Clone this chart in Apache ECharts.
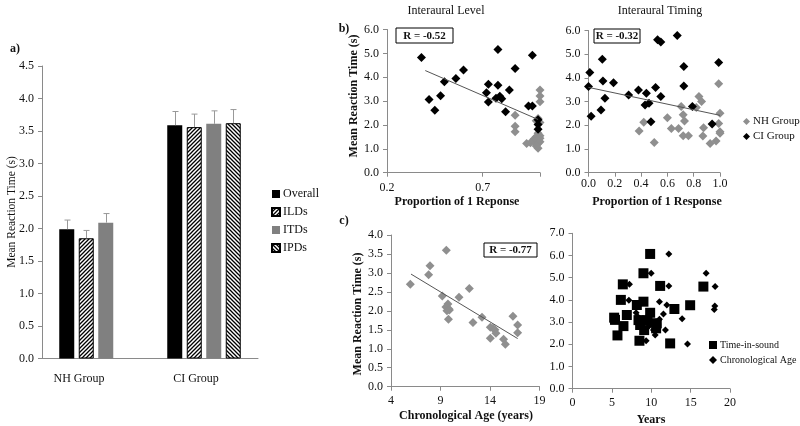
<!DOCTYPE html>
<html><head><meta charset="utf-8">
<script src="https://cdn.jsdelivr.net/npm/echarts@6/dist/echarts.min.js"></script>
<style>html,body{margin:0;padding:0;background:#fff}#c{width:800px;height:426px}</style>
</head><body><div id="c"></div>
<script>
const FONT = '"Liberation Serif", "Times New Roman", serif';

// ---------- Panel a: bar chart ----------
const groups = ['NH Group', 'CI Group'];
const barNames = ['Overall', 'ILDs', 'ITDs', 'IPDs'];
const overall = [1.99, 3.59];
const ilds = [1.85, 3.56];
const itds = [2.09, 3.61];
const ipds = [null, 3.62];
const overallErr = [0.14, 0.21];
const ildsErr = [0.12, 0.20];
const itdsErr = [0.14, 0.20];
const ipdsErr = [null, 0.21];

// ---------- Panel b: Interaural Level ----------
const levelNH = [[0.87,2.41],[0.87,1.95],[0.87,1.72],[1.00,3.46],[1.00,3.21],[1.00,2.97],[0.99,2.27],[0.98,2.18],[1.00,2.10],
  [0.99,1.65],[1.00,1.55],[0.98,1.50],[0.97,1.42],[0.99,1.38],[1.00,1.44],[0.97,1.30],[0.95,1.25],[0.93,1.22],[0.99,1.22],[1.00,1.30],[0.99,1.02],[0.98,1.12]];
const levelCI = [[0.38,4.83],[0.42,3.07],[0.45,2.62],[0.48,3.22],[0.50,3.81],[0.56,3.95],[0.60,4.30],[0.72,3.35],[0.73,2.96],[0.73,3.71],
  [0.78,5.16],[0.78,3.66],[0.77,3.12],[0.79,3.20],[0.80,3.10],[0.82,2.55],[0.84,3.46],[0.87,4.37],[0.94,2.79],[0.96,2.79],[0.96,4.92],[0.99,2.22],[0.99,2.02],[0.99,1.82]];
const levelTrend = [[0.40,4.28],[0.99,2.23]];
const levelXTicks = [0.2, 0.7];

// ---------- Panel b: Interaural Timing ----------
const timingNH = [[0.385,1.76],[0.42,2.13],[0.50,1.27],[0.60,2.32],[0.63,1.87],[0.685,1.87],[0.705,2.79],[0.72,2.44],[0.73,2.18],[0.72,1.56],
  [0.76,1.56],[0.82,2.75],[0.84,3.21],[0.86,3.00],[0.875,1.90],[0.87,1.55],[0.925,1.23],[0.97,1.34],[0.99,3.75],[1.00,2.51],[0.99,2.08],[1.00,1.73],[1.00,1.66]];
const timingCI = [[0.00,3.64],[0.01,4.23],[0.02,2.38],[0.105,4.79],[0.11,3.87],[0.125,3.14],[0.095,2.65],[0.19,3.80],[0.305,3.28],[0.38,3.49],
  [0.44,3.35],[0.43,2.86],[0.46,2.93],[0.475,2.15],[0.51,3.59],[0.525,5.61],[0.55,5.51],[0.55,3.21],[0.675,5.79],[0.725,4.48],[0.725,3.66],[0.79,2.79],[0.94,2.06],[0.99,4.65]];
const timingTrend = [[0.0,3.60],[1.0,2.42]];

// ---------- Panel c: Chronological age ----------
const ageNH = [[5.95,2.70],[7.80,2.95],[7.94,3.19],[9.59,3.60],[9.18,2.39],[9.55,2.10],[9.75,2.18],[9.85,2.05],[9.65,2.00],[9.90,2.02],[9.80,1.78],
  [10.87,2.36],[11.91,2.59],[12.28,1.69],[13.19,1.83],[14.03,1.57],[14.30,1.54],[14.50,1.50],[14.60,1.41],[14.03,1.28],[15.37,1.25],[15.55,1.12],[16.32,1.86],[16.79,1.63],[16.79,1.42]];
const ageTrend = [[6.02,2.97],[16.79,1.27]];

// ---------- Panel c: Years ----------
const timeInSound = [[9.86,6.07],[9.01,5.20],[6.39,4.70],[11.13,4.63],[16.62,4.60],[6.14,4.00],[9.01,3.92],[8.17,3.77],[12.94,3.59],[14.94,3.76],
  [9.86,3.42],[5.29,3.20],[5.40,3.10],[6.90,3.32],[6.47,2.82],[8.38,3.09],[8.59,2.87],[9.52,3.09],[9.10,2.64],[10.62,2.72],[10.70,2.95],[5.71,2.40],[8.50,2.16],[12.40,2.04]];
const chronoAge = [[12.23,6.07],[9.99,5.20],[16.97,5.20],[7.23,4.70],[12.23,4.63],[18.11,4.60],[7.16,3.98],[11.04,3.92],[11.98,3.77],[18.07,3.72],
  [18.00,3.57],[13.92,3.15],[8.08,3.42],[8.30,3.24],[9.65,3.30],[11.04,3.13],[11.55,3.36],[9.73,2.82],[10.28,2.64],[10.84,2.72],[11.80,2.64],[10.50,2.42],[9.35,2.16],[14.60,2.01]];

// ---------- helpers ----------
function hatch(dir) {
  const c = document.createElement('canvas');
  c.width = c.height = 4;
  const g = c.getContext('2d');
  g.fillStyle = '#fff'; g.fillRect(0, 0, 4, 4);
  g.strokeStyle = '#000'; g.lineWidth = 1.3; g.beginPath();
  if (dir > 0) { g.moveTo(0,4); g.lineTo(4,0); g.moveTo(-1,1); g.lineTo(1,-1); g.moveTo(3,5); g.lineTo(5,3); }
  else { g.moveTo(0,0); g.lineTo(4,4); g.moveTo(-1,3); g.lineTo(1,5); g.moveTo(3,-1); g.lineTo(5,1); }
  g.stroke();
  return c;
}
const GRAY_AXIS = '#8a8a8a';
const TXT = '#111';
function valAxis(idx, min, max, interval, fmt, margin) {
  return {
    type: 'value', gridIndex: idx, min, max, interval,
    axisLine: { show: true, lineStyle: { color: GRAY_AXIS } },
    axisTick: { show: true, length: 4, lineStyle: { color: GRAY_AXIS } },
    splitLine: { show: false },
    axisLabel: { fontFamily: FONT, fontSize: 12, color: TXT, margin: margin || 8, formatter: fmt }
  };
}
const f1 = v => v.toFixed(1);
const f0 = v => String(Math.round(v));

const BAR_W = 15, BAR_GAP = 0.3;
const barVals = [overall, ilds, itds, ipds];
const barErrs = [overallErr, ildsErr, itdsErr, ipdsErr];
const errData = [];
barVals.forEach((arr, s) => arr.forEach((v, c) => { if (v != null) errData.push([c, s, v, barErrs[s][c]]); }));

function text(t, x, y, opts) {
  opts = opts || {};
  return {
    type: 'text', x, y, rotation: opts.rot || 0, z: 100,
    style: { text: t, fontFamily: FONT, fontSize: opts.size || 12, fontWeight: opts.bold ? 'bold' : 'normal',
      fill: TXT, align: opts.align || 'center', verticalAlign: 'middle', textAlign: opts.align || 'center', textVerticalAlign: 'middle' }
  };
}
function rbox(t, x, y, w, h) {
  return {
    type: 'group', z: 100, children: [
      { type: 'rect', shape: { x, y, width: w, height: h }, style: { fill: '#fff', stroke: '#000', lineWidth: 1 } },
      text(t, x + w / 2, y + h / 2 + 0.5, { bold: true, size: 11 })
    ]
  };
}

const chart = echarts.init(document.getElementById('c'), null, { renderer: 'canvas' });
const option = {
  backgroundColor: '#fff',
  animation: false,
  grid: [
    { left: 42, top: 66, width: 216, height: 292.5 },
    { left: 387, top: 29.5, width: 153, height: 143.2 },
    { left: 588.5, top: 30.5, width: 131.5, height: 142.2 },
    { left: 391, top: 235, width: 148.5, height: 151.7 },
    { left: 572.5, top: 233.3, width: 157.5, height: 155.4 }
  ],
  xAxis: [
    { type: 'category', gridIndex: 0, data: groups,
      axisLine: { lineStyle: { color: GRAY_AXIS } }, axisTick: { show: false },
      axisLabel: { fontFamily: FONT, fontSize: 12, color: TXT, margin: 14,
        formatter: (v, i) => i === 0 ? '{a|' + v + '}' : '{b|' + v + '}',
        rich: { a: { fontFamily: FONT, fontSize: 12, color: TXT, padding: [0, 34, 0, 0] },
                b: { fontFamily: FONT, fontSize: 12, color: TXT, padding: [0, 16, 0, 0] } } } },
    valAxis(1, 0.2, 1.0, 0.5, v => levelXTicks.some(t => Math.abs(t - v) < 1e-6) ? v.toFixed(1) : '', 9),
    valAxis(2, 0, 1, 0.2, f1, 5),
    valAxis(3, 4, 19, 5, f0, 8),
    valAxis(4, 0, 20, 5, f0, 8)
  ],
  yAxis: [
    valAxis(0, 0, 4.5, 0.5, f1),
    valAxis(1, 0, 6, 1, f1),
    valAxis(2, 0, 6, 1, f1),
    valAxis(3, 0, 4, 0.5, f1),
    valAxis(4, 0, 7, 1, f1)
  ],
  legend: [
    { data: barNames, orient: 'vertical', left: 271, top: 188, itemWidth: 8, itemHeight: 8, itemGap: 6, icon: 'rect',
      padding: 0, selectedMode: false, textStyle: { fontFamily: FONT, fontSize: 12, color: TXT, padding: [0, 0, 0, -2] } },
    { data: ['NH Group', 'CI Group'], orient: 'vertical', left: 743, top: 116, itemWidth: 7, itemHeight: 7, itemGap: 4, icon: 'diamond',
      padding: 0, selectedMode: false, textStyle: { fontFamily: FONT, fontSize: 11, color: TXT, padding: [0, 0, 0, -2] } },
    { data: [{ name: 'Time-in-sound', icon: 'rect' }, { name: 'Chronological Age', icon: 'diamond' }], orient: 'vertical',
      left: 709, top: 340, itemWidth: 8, itemHeight: 8, itemGap: 5, padding: 0, selectedMode: false,
      textStyle: { fontFamily: FONT, fontSize: 10, color: TXT, padding: [0, 0, 0, -2] } }
  ],
  series: [
    { name: 'Overall', type: 'bar', xAxisIndex: 0, yAxisIndex: 0, data: overall, barWidth: BAR_W, barGap: '30%',
      itemStyle: { color: '#000' } },
    { name: 'ILDs', type: 'bar', xAxisIndex: 0, yAxisIndex: 0, data: ilds, barWidth: BAR_W, barGap: '30%',
      itemStyle: { color: { image: hatch(1), repeat: 'repeat' }, borderColor: '#000', borderWidth: 1 } },
    { name: 'ITDs', type: 'bar', xAxisIndex: 0, yAxisIndex: 0, data: itds, barWidth: BAR_W, barGap: '30%',
      itemStyle: { color: '#808080' } },
    { name: 'IPDs', type: 'bar', xAxisIndex: 0, yAxisIndex: 0, data: ipds, barWidth: BAR_W, barGap: '30%',
      itemStyle: { color: { image: hatch(-1), repeat: 'repeat' }, borderColor: '#000', borderWidth: 1 } },
    { type: 'custom', xAxisIndex: 0, yAxisIndex: 0, data: errData, z: 5, encode: { x: 0, y: 2 },
      renderItem: function (params, api) {
        const c = api.value(0), s = api.value(1), v = api.value(2), e = api.value(3);
        const base = api.coord([c, v]);
        const top = api.coord([c, v + e]);
        const gap = BAR_W * BAR_GAP, total = 4 * BAR_W + 3 * gap;
        const x = Math.round(base[0] - total / 2 + s * (BAR_W + gap) + BAR_W / 2) + 0.5;
        const st = { stroke: '#999', lineWidth: 1 };
        return { type: 'group', children: [
          { type: 'line', shape: { x1: x, y1: base[1], x2: x, y2: top[1] }, style: st },
          { type: 'line', shape: { x1: x - 3, y1: top[1], x2: x + 3, y2: top[1] }, style: st }
        ] };
      } },

    { name: 'NH Group', type: 'scatter', xAxisIndex: 1, yAxisIndex: 1, data: levelNH, symbol: 'diamond', symbolSize: 9, itemStyle: { color: '#8f8f8f', opacity: 1 } },
    { name: 'CI Group', type: 'scatter', xAxisIndex: 1, yAxisIndex: 1, data: levelCI, symbol: 'diamond', symbolSize: 9, itemStyle: { color: '#000', opacity: 1 } },
    { type: 'line', xAxisIndex: 1, yAxisIndex: 1, data: levelTrend, symbol: 'none', z: 4, lineStyle: { color: '#555', width: 1 } },

    { name: 'NH Group', type: 'scatter', xAxisIndex: 2, yAxisIndex: 2, data: timingNH, symbol: 'diamond', symbolSize: 9, itemStyle: { color: '#8f8f8f', opacity: 1 } },
    { name: 'CI Group', type: 'scatter', xAxisIndex: 2, yAxisIndex: 2, data: timingCI, symbol: 'diamond', symbolSize: 9, itemStyle: { color: '#000', opacity: 1 } },
    { type: 'line', xAxisIndex: 2, yAxisIndex: 2, data: timingTrend, symbol: 'none', z: 4, lineStyle: { color: '#555', width: 1 } },

    { name: 'NH Group', type: 'scatter', xAxisIndex: 3, yAxisIndex: 3, data: ageNH, symbol: 'diamond', symbolSize: 9, itemStyle: { color: '#8f8f8f', opacity: 1 } },
    { type: 'line', xAxisIndex: 3, yAxisIndex: 3, data: ageTrend, symbol: 'none', z: 4, lineStyle: { color: '#555', width: 1 } },

    { name: 'Time-in-sound', type: 'scatter', xAxisIndex: 4, yAxisIndex: 4, data: timeInSound, symbol: 'rect', symbolSize: 10, itemStyle: { color: '#000', opacity: 1 } },
    { name: 'Chronological Age', type: 'scatter', xAxisIndex: 4, yAxisIndex: 4, data: chronoAge, symbol: 'diamond', symbolSize: 7, itemStyle: { color: '#000', opacity: 1 } }
  ],
  graphic: [
    text('a)', 15, 49, { bold: true }),
    text('Mean Reaction Time (s)', 12, 212, { rot: Math.PI / 2, size: 11.5 }),
    text('Interaural Level', 446, 11),
    text('Interaural Timing', 660, 11),
    text('b)', 344, 29, { bold: true }),
    text('Mean Reaction Time (s)', 354, 96, { rot: Math.PI / 2, bold: true }),
    text('Proportion of 1 Reponse', 457, 202, { bold: true }),
    text('Proportion of 1 Response', 657, 202, { bold: true }),
    text('c)', 344, 221, { bold: true }),
    text('Mean Reaction Time (s)', 358, 314, { rot: Math.PI / 2, bold: true }),
    text('Chronological Age (years)', 466, 416, { bold: true }),
    text('Years', 651, 420, { bold: true }),
    rbox('R = -0.52', 396, 28, 57, 15),
    rbox('R = -0.32', 594, 29, 46, 14),
    rbox('R = -0.77', 484, 243, 53, 14)
  ]
};
chart.setOption(option);
</script></body></html>
